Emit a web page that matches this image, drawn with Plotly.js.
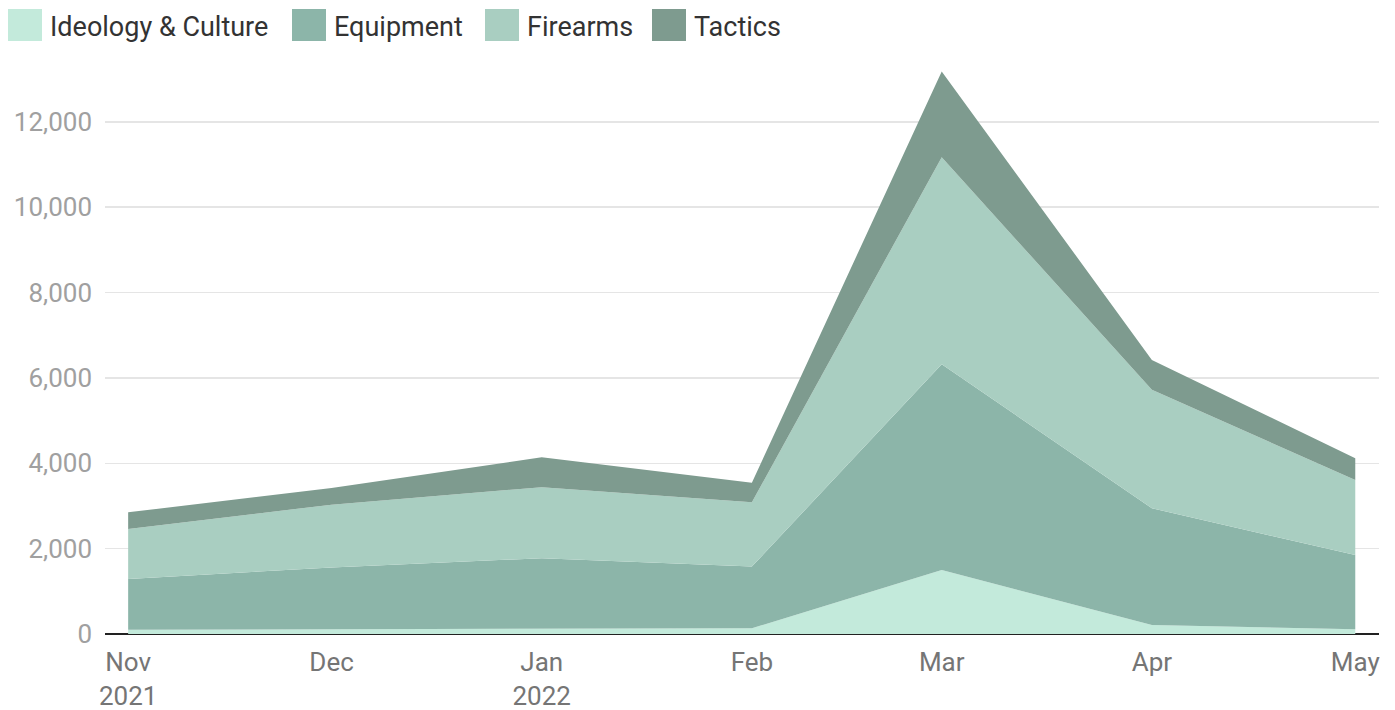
<!DOCTYPE html>
<html>
<head>
<meta charset="utf-8">
<script src="https://cdn.plot.ly/plotly-3.0.1.min.js"></script>
<style>html,body{margin:0;padding:0;background:#fff;}#chart{width:1395px;height:710px;}</style>
</head>
<body>
<div id="chart"></div>
<script>
const months = ['2021-11-01','2021-12-01','2022-01-01','2022-02-01','2022-03-01','2022-04-01','2022-05-01'];
const xTickLabels = ['Nov<br>2021','Dec','Jan<br>2022','Feb','Mar','Apr','May'];
const seriesNames = ['Ideology & Culture','Equipment','Firearms','Tactics'];
const ideology  = [100, 110, 110, 135, 1500, 210, 110];
const equipment = [1190, 1450, 1665, 1445, 4820, 2735, 1740];
const firearms  = [1170, 1470, 1665, 1505, 4850, 2775, 1760];
const tactics   = [390, 390, 700, 460, 2010, 700, 507];
const yTicks = [0, 2000, 4000, 6000, 8000, 10000, 12000];

const colors = ['#c3eadb', '#8cb5a9', '#a9cec1', '#7e9b8f'];
const values = [ideology, equipment, firearms, tactics];

const traces = values.map((v, i) => ({
  type: 'scatter', mode: 'lines', x: months, y: v, name: seriesNames[i],
  stackgroup: 'one', line: {width: 0, color: colors[i]}, fillcolor: colors[i],
  hoverinfo: 'x+y+name'
}));

const W = 1395, Hh = 710;
const m = {l: 105, r: 16, t: 62, b: 76};
const pw = W - m.l - m.r, ph = Hh - m.t - m.b;
const px = x => (x - m.l) / pw;
const py = y => (m.t + ph - y) / ph;

const legendX = [8, 292, 485, 652];
const shapes = [], annotations = [];
seriesNames.forEach((n, i) => {
  shapes.push({type: 'rect', xref: 'paper', yref: 'paper', x0: px(legendX[i]), x1: px(legendX[i] + 34),
    y0: py(41), y1: py(9), fillcolor: colors[i], line: {width: 0}});
  annotations.push({xref: 'paper', yref: 'paper', x: px(legendX[i] + 40), y: py(27), xanchor: 'left', yanchor: 'middle',
    text: n, showarrow: false, font: {family: 'Roboto', size: 27, color: '#333'}});
});

const layout = {
  width: W, height: Hh, margin: m, showlegend: false,
  paper_bgcolor: '#fff', plot_bgcolor: '#fff',
  font: {family: 'Roboto'},
  xaxis: {type: 'date', range: ['2021-10-28 14:00', '2022-05-04 12:00'], tickvals: months, ticktext: xTickLabels,
    showgrid: false, ticks: '', showline: false, zeroline: false, ticklabelstandoff: 10,
    tickfont: {family: 'Roboto', size: 26, color: '#757575'}},
  yaxis: {range: [0, 13400], tickvals: yTicks, tickformat: ',', showgrid: true, gridcolor: 'rgba(0,0,0,0.1)', gridwidth: 1.5,
    layer: 'above traces', zeroline: true, zerolinecolor: '#222', zerolinewidth: 2.5, ticks: '',
    tickfont: {family: 'Roboto', size: 26, color: '#a0a0a0'}, ticklabelstandoff: 12},
  shapes: shapes, annotations: annotations
};
Plotly.newPlot('chart', traces, layout, {displayModeBar: false, staticPlot: true});
</script>
</body>
</html>
